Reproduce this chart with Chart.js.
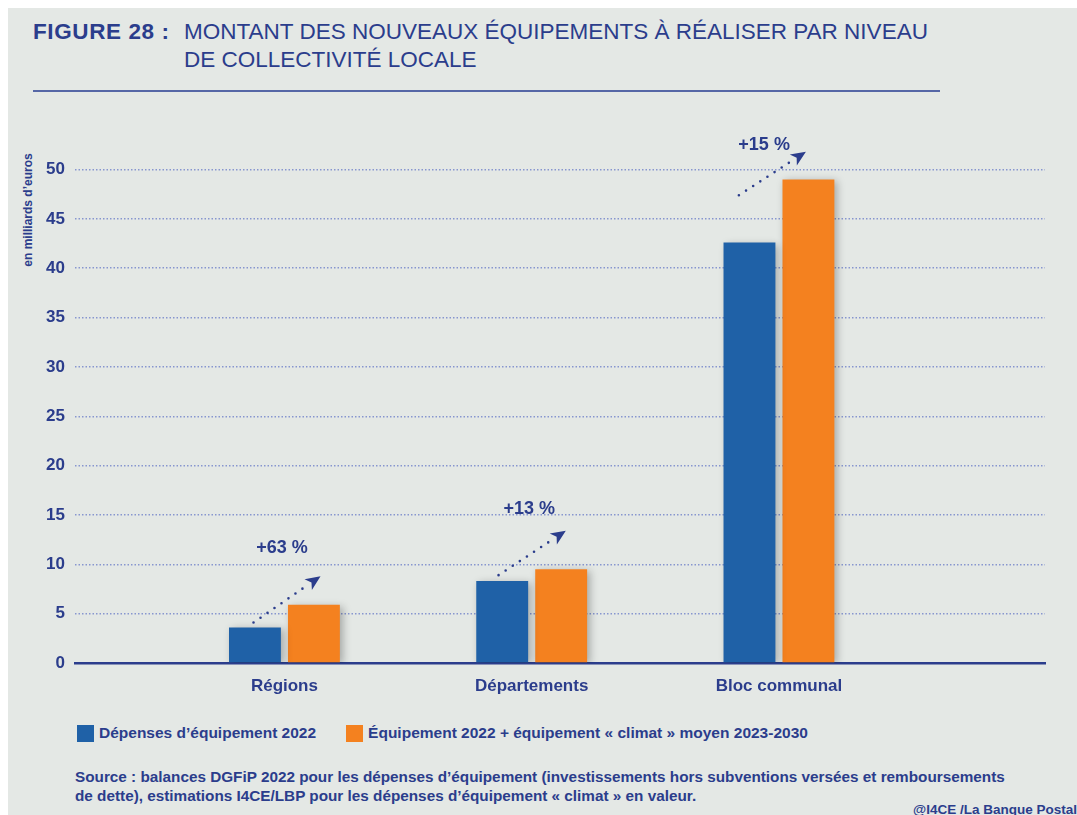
<!DOCTYPE html>
<html><head><meta charset="utf-8">
<script src="https://cdn.jsdelivr.net/npm/chart.js@4.4.1/dist/chart.umd.min.js"></script>
<style>
html,body{margin:0;padding:0;background:#fff;width:1077px;height:815px;overflow:hidden;font-family:"Liberation Sans",Arial,Helvetica,sans-serif;color:#2b3d8c}
#panel{position:absolute;left:8px;top:8px;width:1069px;height:807px;background:#e4e8e5}
#title{position:absolute;left:33px;top:18px;font-size:22.5px;line-height:28px;display:flex;white-space:nowrap}
#title .num{width:151px;font-weight:bold;letter-spacing:0.6px}
#rule{position:absolute;left:33px;top:90px;width:907px;height:2px;background:#5667a6}
#ytitle{position:absolute;left:28px;top:210px;transform:translate(-50%,-50%) rotate(-90deg);font-size:12px;font-weight:bold;white-space:nowrap}
#legend{position:absolute;left:77px;top:724px;display:flex;align-items:center;font-size:15.5px;font-weight:bold;white-space:nowrap}
#legend .sw{width:17px;height:17px;display:inline-block;margin-right:5px}
#legend .item{display:flex;align-items:center;margin-right:30px}
#source{position:absolute;left:75px;top:767px;font-size:15.3px;font-weight:bold;line-height:19px;width:1000px;white-space:nowrap}
#credit{position:absolute;left:913px;top:802px;font-size:13.5px;font-weight:bold;white-space:nowrap}
</style></head>
<body>
<div id="panel"></div>
<div id="title"><div class="num">FIGURE 28 :</div><div>MONTANT DES NOUVEAUX ÉQUIPEMENTS À RÉALISER PAR NIVEAU<br>DE COLLECTIVITÉ LOCALE</div></div>
<div id="rule"></div>
<div id="ytitle">en milliards d’euros</div>
<canvas id="c" width="1077" height="610" style="position:absolute;left:0;top:100px;width:1077px;height:610px"></canvas>
<div id="legend"></div>
<div id="source">Source : balances DGFiP 2022 pour les dépenses d’équipement (investissements hors subventions versées et remboursements<br>de dette), estimations I4CE/LBP pour les dépenses d’équipement « climat » en valeur.</div>
<div id="credit">@I4CE /La Banque Postale</div>
<script>
// ---- data ----
const categories = ['Régions', 'Départements', 'Bloc communal'];
const seriesNames = ['Dépenses d’équipement 2022', 'Équipement 2022 + équipement « climat » moyen 2023-2030'];
const depenses2022 = [3.6, 8.3, 42.6];
const equipementClimat = [5.9, 9.5, 49.0];
const yTickValues = [0, 5, 10, 15, 20, 25, 30, 35, 40, 45, 50];
const growthLabels = ['+63 %', '+13 %', '+15 %'];
const arrowFromValue = [4.1, 8.9, 47.4];
const arrowToValue = [8.8, 13.4, 51.8];
const growthLabelValue = [11.6, 15.6, 52.5];
const arrowFromOffset = [-0.125, -0.134, -0.162];
const arrowToOffset = [0.146, 0.138, 0.109];
const growthLabelOffset = [-0.01, -0.01, -0.06];

const NAVY = '#2b3d8c';
const BLUE = '#1f61a7';
const ORANGE = '#f4811f';
const seriesColors = [BLUE, ORANGE];

// legend (HTML)
const legendEl = document.getElementById('legend');
seriesNames.forEach((n, i) => {
  const it = document.createElement('div'); it.className = 'item';
  const sw = document.createElement('span'); sw.className = 'sw'; sw.style.background = seriesColors[i];
  it.appendChild(sw); it.appendChild(document.createTextNode(n));
  legendEl.appendChild(it);
});

const shadowPlugin = {
  id: 'barShadow',
  beforeDatasetsDraw(chart) {
    const ctx = chart.ctx; ctx.save();
    ctx.shadowColor = 'rgba(0,0,0,0.28)'; ctx.shadowBlur = 8; ctx.shadowOffsetX = 3; ctx.shadowOffsetY = 2;
  },
  afterDatasetsDraw(chart) { chart.ctx.restore(); }
};

const growthPlugin = {
  id: 'growth',
  afterDatasetsDraw(chart) {
    const ctx = chart.ctx, x = chart.scales.x, y = chart.scales.y;
    categories.forEach((c, i) => {
      const x0 = x.getPixelForValue(i + 1 + arrowFromOffset[i]), y0 = y.getPixelForValue(arrowFromValue[i]);
      const x1 = x.getPixelForValue(i + 1 + arrowToOffset[i]), y1 = y.getPixelForValue(arrowToValue[i]);
      const ang = Math.atan2(y1 - y0, x1 - x0);
      const headLen = 15, halfW = 6.5, notch = 4;
      const bx = x1 - Math.cos(ang) * (headLen - notch), by = y1 - Math.sin(ang) * (headLen - notch);
      ctx.save();
      ctx.strokeStyle = NAVY; ctx.fillStyle = NAVY;
      ctx.lineWidth = 2.6; ctx.lineCap = 'round'; ctx.setLineDash([0, 8.5]);
      ctx.beginPath(); ctx.moveTo(x0, y0); ctx.lineTo(bx - Math.cos(ang) * 3, by - Math.sin(ang) * 3); ctx.stroke();
      ctx.setLineDash([]);
      const cx = x1 - Math.cos(ang) * headLen, cy = y1 - Math.sin(ang) * headLen;
      const px = -Math.sin(ang), py = Math.cos(ang);
      ctx.beginPath();
      ctx.moveTo(x1, y1);
      ctx.lineTo(cx + px * halfW, cy + py * halfW);
      ctx.lineTo(bx, by);
      ctx.lineTo(cx - px * halfW, cy - py * halfW);
      ctx.closePath(); ctx.fill();
      ctx.font = 'bold 18px "Liberation Sans", Arial, sans-serif';
      ctx.textAlign = 'center'; ctx.textBaseline = 'middle';
      ctx.fillText(growthLabels[i], x.getPixelForValue(i + 1 + growthLabelOffset[i]), y.getPixelForValue(growthLabelValue[i]));
      ctx.restore();
    });
  }
};

const toPoints = arr => arr.map((v, i) => ({ x: i + 1, y: v }));

new Chart(document.getElementById('c'), {
  type: 'bar',
  data: {
    datasets: [
      { label: seriesNames[0], data: toPoints(depenses2022), backgroundColor: BLUE, borderWidth: 0 },
      { label: seriesNames[1], data: toPoints(equipementClimat), backgroundColor: ORANGE, borderWidth: 0 }
    ]
  },
  options: {
    responsive: false, animation: false, devicePixelRatio: 1,
    categoryPercentage: 0.477, barPercentage: 0.88,
    layout: { padding: { left: 0, right: 32, top: 18.5, bottom: 0 } },
    plugins: { legend: { display: false }, tooltip: { enabled: false } },
    scales: {
      x: {
        type: 'linear', min: 0.153, max: 4.076, z: 1, offset: false,
        afterBuildTicks: s => { s.ticks = categories.map((c, i) => ({ value: i + 1 })); },
        afterFit: s => { s.height = 47; },
        grid: { display: false, drawTicks: false, offset: false },
        border: { display: true, color: NAVY, width: 2.5 },
        ticks: {
          padding: 13, color: NAVY, autoSkip: false, maxRotation: 0,
          font: { family: '"Liberation Sans", Arial, sans-serif', size: 17, weight: 'bold' },
          callback: v => categories[Math.round(v) - 1] || ''
        }
      },
      y: {
        min: 0, max: 55,
        afterBuildTicks: s => { s.ticks = yTickValues.map(v => ({ value: v })); },
        afterFit: s => { s.width = 75; },
        grid: { drawTicks: false, color: ctx => ctx.tick && ctx.tick.value === 0 ? 'rgba(0,0,0,0)' : '#8796cf', lineWidth: 1.5 },
        border: { display: false, dash: [1.5, 2] },
        ticks: {
          padding: 10, color: NAVY,
          font: { family: '"Liberation Sans", Arial, sans-serif', size: 17, weight: 'bold' }
        }
      }
    }
  },
  plugins: [shadowPlugin, growthPlugin]
});
</script>
</body></html>
